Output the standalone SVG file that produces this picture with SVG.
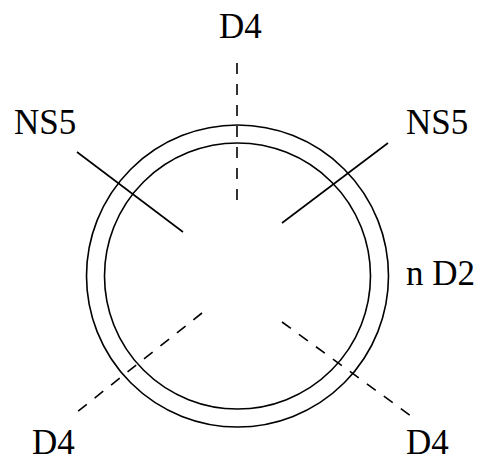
<svg xmlns="http://www.w3.org/2000/svg" width="492" height="462" viewBox="0 0 492 462">
<style>
.ln{stroke:#000;stroke-width:1.6;fill:none}
.dash{stroke-dasharray:11 10}
text{font-family:"Liberation Serif","Times New Roman",serif;font-size:35px;fill:#000}
</style>
<rect width="492" height="462" fill="#fff"/>
<g id="ring">
<circle class="ln" cx="237.5" cy="276" r="151"/>
<circle class="ln" cx="237.5" cy="276" r="133"/>
</g>
<g id="connectors">
<line class="ln dash" x1="237" y1="63" x2="237" y2="205"/>
<line class="ln" x1="77" y1="152" x2="183" y2="232"/>
<line class="ln" x1="388" y1="143" x2="282" y2="223"/>
<line class="ln dash" x1="202" y1="313" x2="72" y2="416"/>
<line class="ln dash" x1="282" y1="322" x2="411" y2="416"/>
</g>
<g id="label-top"><text x="219" y="38">D4</text></g>
<g id="label-ns5-left"><text x="14" y="134">NS5</text></g>
<g id="label-ns5-right"><text x="406" y="134">NS5</text></g>
<g id="label-nd2"><text x="406" y="285">n D2</text></g>
<g id="label-bl"><text x="32" y="454">D4</text></g>
<g id="label-br"><text x="406" y="454">D4</text></g>
</svg>
